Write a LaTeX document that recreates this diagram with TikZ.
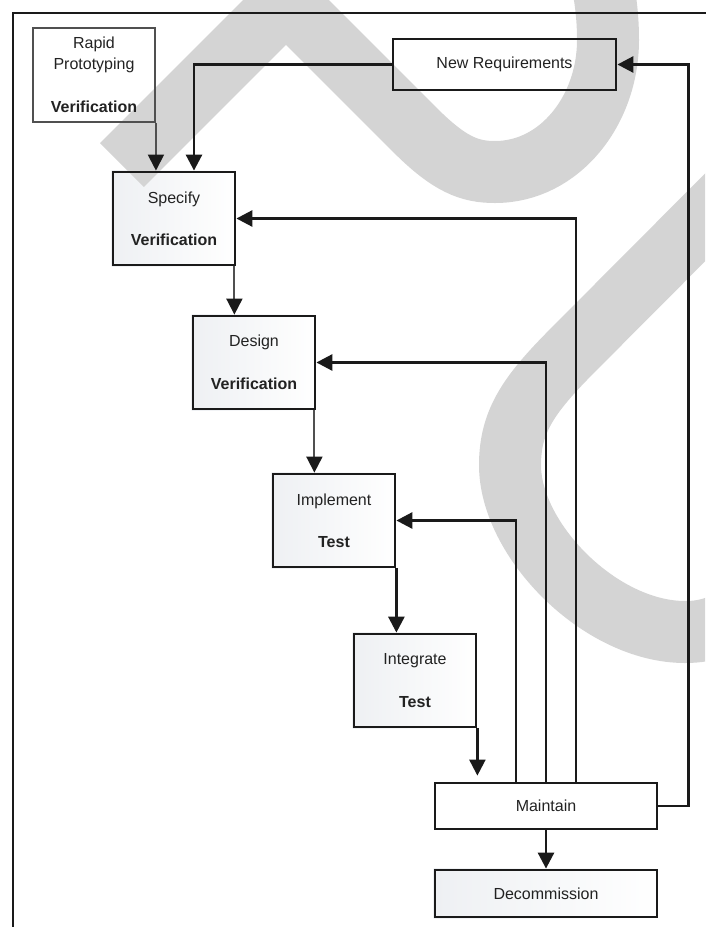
\documentclass[tikz,border=0pt]{standalone}
\usepackage{fontspec}
\setmainfont{Liberation Sans}
\usetikzlibrary{arrows.meta}
\definecolor{wm}{RGB}{212,212,212}
\definecolor{ink}{RGB}{26,26,26}
\definecolor{soft}{RGB}{80,80,80}
\definecolor{txt}{RGB}{34,34,34}
\definecolor{tint}{RGB}{238,240,243}
\pgfdeclarelayer{bg}
\pgfdeclarelayer{wmlayer}
\pgfsetlayers{bg,wmlayer,main}

\begin{document}
\begin{tikzpicture}[x=1pt,y=-1pt,
  box/.style={draw=ink, line width=2.8pt, minimum width=122pt, minimum height=93pt,
    inner sep=0pt, align=center, text=txt, font=\fontsize{16}{19}\selectfont},
  wide/.style={box, minimum width=222pt, minimum height=46pt},
  tip/.style={-{Triangle[length=16pt,width=16pt,color=ink]}},
  link/.style={draw=ink, line width=2.8pt, tip},
  thinlink/.style={draw=soft, line width=1.9pt, tip},
  band/.style={draw=wm, line width=62pt, line join=miter, line cap=butt},
  shadefill/.style={left color=tint, right color=white}]

\useasboundingbox (0,0) rectangle (705,927);

% outer frame, running off the right and bottom edges
\draw[ink, line width=2.8pt] (13,940) -- (13,13) -- (720,13);

% process boxes
\node[box, draw=soft, line width=1.9pt, minimum height=94pt] (rapid) at (94,75)
  {Rapid\\[2pt]Prototyping\\[24pt]\textbf{Verification}};
\node[wide, minimum width=223pt, minimum height=51pt] (nr) at (504.5,64.5) {New Requirements};
\node[box] (spec)   at (174,218.5) {Specify\\[23pt]\textbf{Verification}};
\node[box] (design) at (254,362.5) {Design\\[24pt]\textbf{Verification}};
\node[box] (impl)   at (334,520.5) {Implement\\[23pt]\textbf{Test}};
\node[box] (integ)  at (415,680.5) {Integrate\\[24pt]\textbf{Test}};
\node[wide] (maint)  at (546,806)   {Maintain};
\node[wide, minimum height=47pt] (decomm) at (546,893.5) {Decommission};

% light gradient inside the phase boxes
\begin{pgfonlayer}{bg}
  \foreach \b in {spec,design,impl,integ,decomm}
    \fill[shadefill] (\b.north west) rectangle (\b.south east);
\end{pgfonlayer}

% large grey background strokes
\begin{pgfonlayer}{wmlayer}
  \begin{scope}
    \clip (0,0) rectangle (705,927);
    \draw[band] (122,165) -- (286,1) -- (415,130)
      .. controls (450,165) and (470,172) .. (495,172)
      .. controls (560,172) and (608,110) .. (608,40)
      .. controls (608,10) and (604,-10) .. (598,-40);
    \draw[band] (820,102) -- (575,348)
      .. controls (530,393) and (510,420) .. (510,465)
      .. controls (510,540) and (600,632) .. (685,632)
      .. controls (710,632) and (725,625) .. (760,605);
  \end{scope}
\end{pgfonlayer}

% forward flow
\draw[thinlink] (rapid.south east) -- (rapid.south east |- spec.north);
\draw[link] (nr.west) -| ([xshift=20pt]spec.north);
\draw[thinlink] ([xshift=-2pt]spec.south east) -- ([xshift=-2pt]spec.south east |- design.north);
\draw[thinlink] ([xshift=-2pt]design.south east) -- ([xshift=-2pt]design.south east |- impl.north);
\draw[link] (impl.south east) -- (impl.south east |- integ.north);
\draw[link, line width=2.3pt, shorten >=6pt] (integ.south east) -- (integ.south east |- maint.north);
\draw[link] (maint.south) -- (decomm.north);

% feedback from maintenance
\draw[link] ([xshift=30pt]maint.north) |- (spec.east);
\draw[link] (maint.north) |- (design.east);
\draw[link] ([xshift=-30pt]maint.north) |- (impl.east);
\draw[link] (maint.east) -- ++(30,0) |- (nr.east);

\end{tikzpicture}
\end{document}
